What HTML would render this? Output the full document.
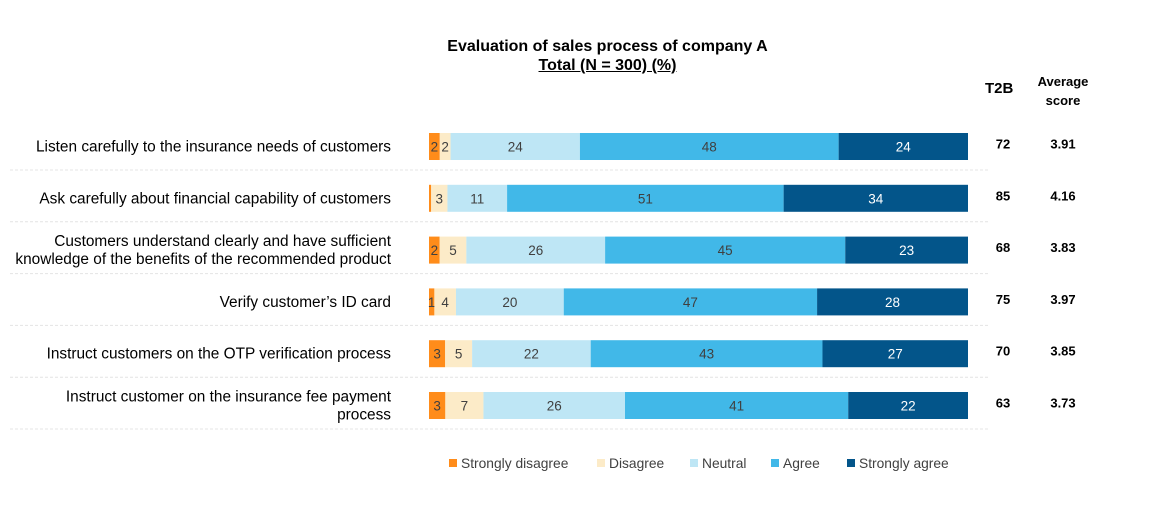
<!DOCTYPE html>
<html><head><meta charset="utf-8"><style>
body{margin:0;width:1153px;height:525px;background:#fff;font-family:"Liberation Sans",sans-serif;position:relative;overflow:hidden}
.t{position:absolute;white-space:nowrap}
</style></head><body>
<div class="t" style="left:0;width:1215px;text-align:center;top:38px;font-weight:bold;font-size:16px;color:#000">Evaluation of sales process of company A</div>
<div class="t" style="left:0;width:1215px;text-align:center;top:57px;font-weight:bold;font-size:16px;text-decoration:underline">Total (N = 300) (%)</div>
<div class="t" style="left:985px;top:80px;font-weight:bold;font-size:15px">T2B</div>
<div class="t" style="left:1030px;width:66px;top:72px;font-weight:bold;font-size:13px;text-align:center;line-height:19px;white-space:normal">Average score</div>
<svg id="chart" width="1153" height="525" style="position:absolute;left:0;top:0"></svg>
<script>
const categories=["Listen carefully to the insurance needs of customers","Ask carefully about financial capability of customers","Customers understand clearly and have sufficient|knowledge of the benefits of the recommended product","Verify customer’s ID card","Instruct customers on the OTP verification process","Instruct customer on the insurance fee payment|process"];
const stronglyDisagree=[2,0.4,2,1,3,3];
const disagree=[2,3,5,4,5,7];
const neutral=[24,11,26,20,22,26];
const agree=[48,51,45,47,43,41];
const stronglyAgree=[24,34,23,28,27,22];
const t2b=[72,85,68,75,70,63];
const avgScore=["3.91","4.16","3.83","3.97","3.85","3.73"];
const seriesNames=["Strongly disagree","Disagree","Neutral","Agree","Strongly agree"];
const colors=["#FF8C1A","#FCEBC8","#BEE6F5","#41B8E8","#03558A"];
const labelColors=["#404040","#404040","#404040","#404040","#ffffff"];
const series=[stronglyDisagree,disagree,neutral,agree,stronglyAgree];
const NS="http://www.w3.org/2000/svg";
const svg=document.getElementById('chart');
const x0=429,x1=968,rowTop=133,rowStep=51.8,barH=27;
function yRow(i){return rowTop+i*rowStep;}
function mk(tag,attrs){const e=document.createElementNS(NS,tag);for(const k in attrs)e.setAttribute(k,attrs[k]);svg.appendChild(e);return e;}
categories.forEach((cat,i)=>{
  const y=yRow(i);
  const total=series.reduce((s,a)=>s+a[i],0);
  let cx=x0;
  series.forEach((arr,j)=>{
    const w=arr[i]/total*(x1-x0);
    const r=mk('rect',{x:cx,y:y,width:w,height:barH,fill:colors[j]});
    
    
    if(arr[i]>=1){
      const t=mk('text',{x:cx+w/2,y:y+barH/2+5,'text-anchor':'middle','font-size':'13.5','font-family':'Liberation Sans, sans-serif',fill:labelColors[j]});
      t.textContent=arr[i];
      
      
    }
    cx+=w;
  });
  const lines=cat.split('|');
  lines.forEach((ln,k)=>{
    const t=mk('text',{x:391,y:y+barH/2+5+(lines.length>1?(k-0.5)*18:0),'text-anchor':'end','font-size':'15.4','font-family':'Liberation Sans, sans-serif',fill:'#000'});
    t.textContent=ln;
    
    
  });
  const a=mk('text',{x:1003,y:y+barH/2+2,'text-anchor':'middle','font-size':'13','font-weight':'bold','font-family':'Liberation Sans, sans-serif'});
  a.textContent=t2b[i];
  
  
  const b=mk('text',{x:1063,y:y+barH/2+2,'text-anchor':'middle','font-size':'13','font-weight':'bold','font-family':'Liberation Sans, sans-serif'});
  b.textContent=avgScore[i];
  
  
  const l=mk('line',{x1:10,x2:988,y1:y+barH+10,y2:y+barH+10,stroke:'#e4e4e4','stroke-dasharray':'3,2'});
  
  
});
const legendX=[449,597,690,771,847];
seriesNames.forEach((n,j)=>{
  const r=mk('rect',{x:legendX[j],y:459,width:8,height:8,fill:colors[j]});
  
  
  const t=mk('text',{x:legendX[j]+12,y:468,'font-size':'13.8','font-family':'Liberation Sans, sans-serif',fill:'#404040'});
  t.textContent=n;
  
  
});
</script>
</body></html>
